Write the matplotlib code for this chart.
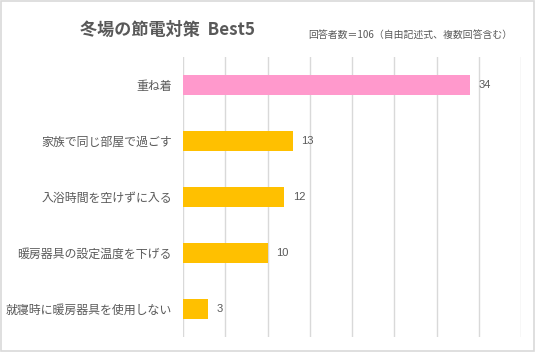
import matplotlib.pyplot as plt
from matplotlib.patches import Rectangle

plt.rcParams['font.family'] = ['Noto Sans CJK JP', 'DejaVu Sans']

# データ
items = ["重ね着", "家族で同じ部屋で過ごす", "入浴時間を空けずに入る",
         "暖房器具の設定温度を下げる", "就寝時に暖房器具を使用しない"]
counts = [34, 13, 12, 10, 3]
colors = ["#FF99CC", "#FFC000", "#FFC000", "#FFC000", "#FFC000"]

fig = plt.figure(figsize=(5.36, 3.52), dpi=100)
ax = fig.add_axes([183/536, 1 - 337/352, (521 - 183)/536, (337 - 57)/352])

y = list(range(len(items)))[::-1]
ax.barh(y, counts, height=0.34, color=colors, zorder=3)
for yy, c in zip(y, counts):
    ax.text(c + 1, yy, str(c), va="center", ha="left", fontsize=8,
            family="Liberation Sans", color="#595959")

ax.set_xlim(0, 40)
ax.set_ylim(-0.5, len(items) - 0.5)
ax.set_xticks(range(0, 41, 5))
ax.set_xticklabels([])
ax.tick_params(axis="x", length=0)
ax.set_yticks(y)
ax.set_yticklabels(items, fontsize=8.6, color="#595959")
ax.tick_params(axis="y", length=0, pad=8)
ax.grid(axis="x", color="#D9D9D9", linewidth=1, zorder=0)
for s in ax.spines.values():
    s.set_visible(False)

fig.text(80/536, 1 - 30/352, "冬場の節電対策  Best5", fontsize=12.3, fontweight="bold",
         color="#595959", va="center", ha="left")
fig.text(512/536, 1 - 35/352, "回答者数＝106（自由記述式、複数回答含む）", fontsize=7.1,
         color="#595959", va="center", ha="right")

fig.patches.append(Rectangle((0.002, 0.003), 0.995, 0.994, transform=fig.transFigure,
                             fill=False, edgecolor="#D9D9D9", linewidth=1.2))

fig.savefig("out.png", dpi=100)
